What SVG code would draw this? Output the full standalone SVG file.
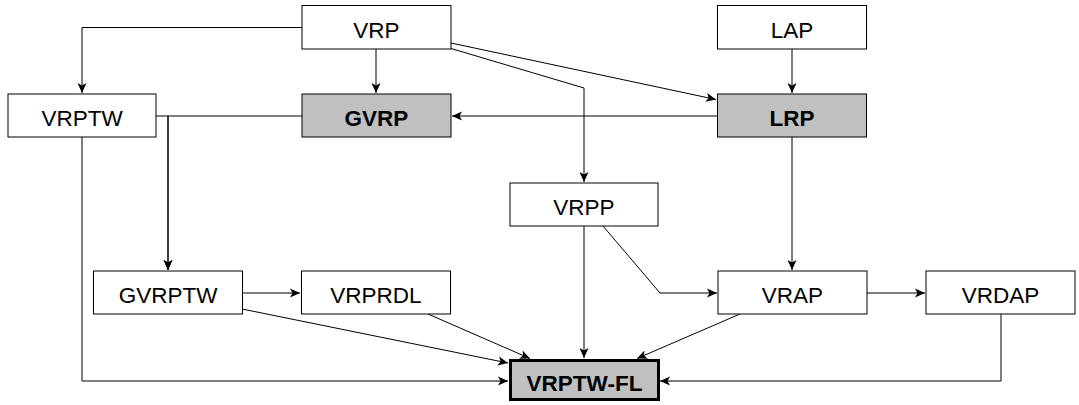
<svg xmlns="http://www.w3.org/2000/svg" width="1079" height="405" viewBox="0 0 1079 405">
<style>
.box{fill:#ffffff;stroke:#000000;stroke-width:1}
.hl{fill:#c0c0c0;stroke:#000000;stroke-width:1}
.fl{fill:#c0c0c0;stroke:#000000;stroke-width:3}
.t{font-family:"Liberation Sans",Arial,sans-serif;font-size:22.5px;text-anchor:middle;fill:#000000}
.b{font-weight:bold}
.c{fill:none;stroke:#000000;stroke-width:1}
</style>
<defs>
<marker id="ah" markerUnits="userSpaceOnUse" markerWidth="12" markerHeight="10" refX="10" refY="5" orient="auto">
<path d="M0,0.5 L10,5 L0,9.5 L2.5,5 z" fill="#000000"/>
</marker>
</defs>
<g id="connectors">
<path class="c" d="M302,27.5 H82 V93" marker-end="url(#ah)"/>
<path class="c" d="M376,49 V93" marker-end="url(#ah)"/>
<path class="c" d="M451,43 L716,99.5" marker-end="url(#ah)"/>
<path class="c" d="M451,48.5 L584,88 V182" marker-end="url(#ah)"/>
<path class="c" d="M792,49 V93" marker-end="url(#ah)"/>
<path class="c" d="M717,116 H452" marker-end="url(#ah)"/>
<path class="c" d="M792,137 V270" marker-end="url(#ah)"/>
<path class="c" d="M302,116 H168 V270" marker-end="url(#ah)"/>
<path class="c" d="M156,116 H168 V270" marker-end="url(#ah)"/>
<path class="c" d="M82,137 V381 H508" marker-end="url(#ah)"/>
<path class="c" d="M242,293 H300" marker-end="url(#ah)"/>
<path class="c" d="M242,309 L508,363" marker-end="url(#ah)"/>
<path class="c" d="M428,314 L530,358.5" marker-end="url(#ah)"/>
<path class="c" d="M584,226 V358" marker-end="url(#ah)"/>
<path class="c" d="M603,226 L660,293 H717" marker-end="url(#ah)"/>
<path class="c" d="M740,314 L637,358.5" marker-end="url(#ah)"/>
<path class="c" d="M867,293 H925" marker-end="url(#ah)"/>
<path class="c" d="M1001,314 V381 H660" marker-end="url(#ah)"/>
</g>
<g id="VRP"><rect class="box" x="302" y="5.5" width="149" height="43.5"/><text class="t" x="376.5" y="37.5">VRP</text></g>
<g id="LAP"><rect class="box" x="717.5" y="5.5" width="149" height="43.5"/><text class="t" x="792" y="37.5">LAP</text></g>
<g id="VRPTW"><rect class="box" x="8" y="94" width="148" height="43"/><text class="t" x="82" y="126">VRPTW</text></g>
<g id="GVRP"><rect class="hl" x="302" y="94" width="149" height="43"/><text class="t b" x="376.5" y="126">GVRP</text></g>
<g id="LRP"><rect class="hl" x="717.5" y="94" width="149" height="43"/><text class="t b" x="792" y="126">LRP</text></g>
<g id="VRPP"><rect class="box" x="510" y="183" width="148" height="43"/><text class="t" x="584" y="215">VRPP</text></g>
<g id="GVRPTW"><rect class="box" x="93.5" y="271" width="149" height="43"/><text class="t" x="168" y="303">GVRPTW</text></g>
<g id="VRPRDL"><rect class="box" x="301.5" y="271" width="149" height="43"/><text class="t" x="376" y="303">VRPRDL</text></g>
<g id="VRAP"><rect class="box" x="718" y="271" width="149" height="43"/><text class="t" x="792.5" y="303">VRAP</text></g>
<g id="VRDAP"><rect class="box" x="926" y="271" width="149" height="43"/><text class="t" x="1000.5" y="303">VRDAP</text></g>
<g id="VRPTW-FL"><rect class="fl" x="510.5" y="360.5" width="148" height="39"/><text class="t b" x="584.5" y="390.5">VRPTW-FL</text></g>
</svg>
